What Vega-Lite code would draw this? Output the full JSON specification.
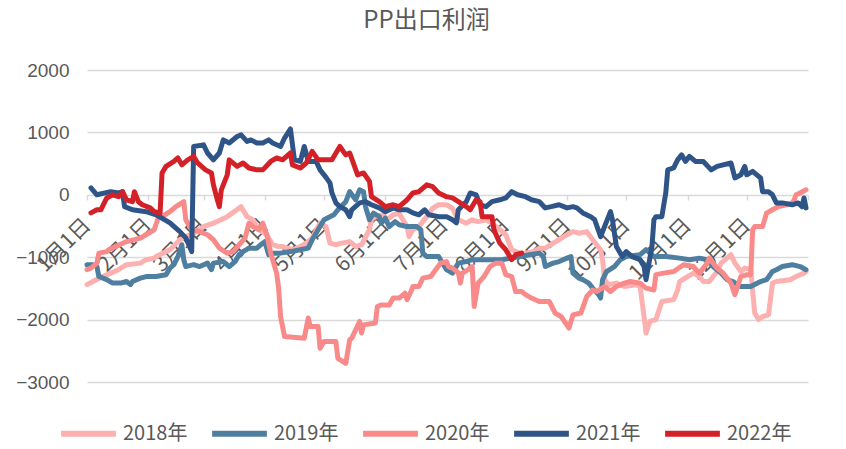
{
"$schema": "https://vega.github.io/schema/vega-lite/v6.json",
"width": 721, "height": 312,
"autosize": {"type": "none"},
"padding": {"left": 87, "top": 70, "right": 38, "bottom": 67},
"background": "white",
"title": {"text": "PP出口利润", "fontSize": 24, "font": "Noto Sans CJK SC", "fontWeight": "normal", "color": "#595959", "anchor": "middle", "dx": -21, "offset": 28},
"config": {"view": {"stroke": null}},
"data": {"values": [
{"s":"2018年","d":"2001-01-01","v":-1440},{"s":"2018年","d":"2001-01-04","v":-1390},{"s":"2018年","d":"2001-01-09","v":-1310},{"s":"2018年","d":"2001-01-13","v":-1255},{"s":"2018年","d":"2001-01-17","v":-1200},{"s":"2018年","d":"2001-01-21","v":-1120},{"s":"2018年","d":"2001-01-28","v":-1095},{"s":"2018年","d":"2001-01-31","v":-1040},{"s":"2018年","d":"2001-02-04","v":-1015},{"s":"2018年","d":"2001-02-05","v":-990},{"s":"2018年","d":"2001-02-12","v":-880},{"s":"2018年","d":"2001-02-17","v":-720},{"s":"2018年","d":"2001-02-20","v":-670},{"s":"2018年","d":"2001-02-24","v":-615},{"s":"2018年","d":"2001-03-01","v":-510},{"s":"2018年","d":"2001-03-06","v":-455},{"s":"2018年","d":"2001-03-13","v":-350},{"s":"2018年","d":"2001-03-20","v":-190},{"s":"2018年","d":"2001-03-23","v":-350},{"s":"2018年","d":"2001-03-26","v":-400},{"s":"2018年","d":"2001-03-29","v":-560},{"s":"2018年","d":"2001-04-02","v":-640},{"s":"2018年","d":"2001-04-05","v":-800},{"s":"2018年","d":"2001-04-08","v":-830},{"s":"2018年","d":"2001-04-10","v":-830},{"s":"2018年","d":"2001-04-15","v":-880},{"s":"2018年","d":"2001-04-19","v":-830},{"s":"2018年","d":"2001-04-22","v":-775},{"s":"2018年","d":"2001-04-25","v":-695},{"s":"2018年","d":"2001-04-28","v":-510},{"s":"2018年","d":"2001-04-29","v":-455},{"s":"2018年","d":"2001-05-02","v":-510},{"s":"2018年","d":"2001-05-04","v":-775},{"s":"2018年","d":"2001-05-07","v":-800},{"s":"2018年","d":"2001-05-10","v":-775},{"s":"2018年","d":"2001-05-14","v":-750},{"s":"2018年","d":"2001-05-17","v":-830},{"s":"2018年","d":"2001-05-20","v":-800},{"s":"2018年","d":"2001-05-24","v":-560},{"s":"2018年","d":"2001-05-25","v":-400},{"s":"2018年","d":"2001-05-27","v":-350},{"s":"2018年","d":"2001-05-31","v":-320},{"s":"2018年","d":"2001-06-02","v":-400},{"s":"2018年","d":"2001-06-05","v":-320},{"s":"2018年","d":"2001-06-08","v":-295},{"s":"2018年","d":"2001-06-12","v":-510},{"s":"2018年","d":"2001-06-13","v":-670},{"s":"2018年","d":"2001-06-15","v":-560},{"s":"2018年","d":"2001-06-18","v":-510},{"s":"2018年","d":"2001-06-22","v":-350},{"s":"2018年","d":"2001-06-25","v":-215},{"s":"2018年","d":"2001-06-28","v":-160},{"s":"2018年","d":"2001-07-02","v":-160},{"s":"2018年","d":"2001-07-05","v":-215},{"s":"2018年","d":"2001-07-08","v":-400},{"s":"2018年","d":"2001-07-12","v":-455},{"s":"2018年","d":"2001-07-15","v":-400},{"s":"2018年","d":"2001-07-18","v":-430},{"s":"2018年","d":"2001-07-22","v":-400},{"s":"2018年","d":"2001-07-25","v":-455},{"s":"2018年","d":"2001-07-29","v":-560},{"s":"2018年","d":"2001-08-01","v":-640},{"s":"2018年","d":"2001-08-04","v":-880},{"s":"2018年","d":"2001-08-08","v":-935},{"s":"2018年","d":"2001-08-11","v":-935},{"s":"2018年","d":"2001-08-15","v":-910},{"s":"2018年","d":"2001-08-18","v":-855},{"s":"2018年","d":"2001-08-21","v":-855},{"s":"2018年","d":"2001-08-25","v":-775},{"s":"2018年","d":"2001-08-28","v":-720},{"s":"2018年","d":"2001-09-01","v":-640},{"s":"2018年","d":"2001-09-04","v":-590},{"s":"2018年","d":"2001-09-07","v":-615},{"s":"2018年","d":"2001-09-11","v":-590},{"s":"2018年","d":"2001-09-14","v":-720},{"s":"2018年","d":"2001-09-18","v":-880},{"s":"2018年","d":"2001-09-19","v":-1040},{"s":"2018年","d":"2001-09-20","v":-1360},{"s":"2018年","d":"2001-09-22","v":-1440},{"s":"2018年","d":"2001-09-26","v":-1415},{"s":"2018年","d":"2001-09-30","v":-1470},{"s":"2018年","d":"2001-10-06","v":-1440},{"s":"2018年","d":"2001-10-08","v":-1470},{"s":"2018年","d":"2001-10-10","v":-1950},{"s":"2018年","d":"2001-10-11","v":-2215},{"s":"2018年","d":"2001-10-13","v":-2030},{"s":"2018年","d":"2001-10-16","v":-2000},{"s":"2018年","d":"2001-10-19","v":-1710},{"s":"2018年","d":"2001-10-25","v":-1680},{"s":"2018年","d":"2001-10-27","v":-1525},{"s":"2018年","d":"2001-10-28","v":-1390},{"s":"2018年","d":"2001-11-01","v":-1310},{"s":"2018年","d":"2001-11-04","v":-1255},{"s":"2018年","d":"2001-11-07","v":-1310},{"s":"2018年","d":"2001-11-09","v":-1390},{"s":"2018年","d":"2001-11-12","v":-1390},{"s":"2018年","d":"2001-11-16","v":-1230},{"s":"2018年","d":"2001-11-18","v":-1095},{"s":"2018年","d":"2001-11-23","v":-960},{"s":"2018年","d":"2001-11-25","v":-1095},{"s":"2018年","d":"2001-11-28","v":-1230},{"s":"2018年","d":"2001-11-30","v":-1175},{"s":"2018年","d":"2001-12-03","v":-1200},{"s":"2018年","d":"2001-12-05","v":-1895},{"s":"2018年","d":"2001-12-07","v":-2000},{"s":"2018年","d":"2001-12-09","v":-1950},{"s":"2018年","d":"2001-12-12","v":-1925},{"s":"2018年","d":"2001-12-14","v":-1415},{"s":"2018年","d":"2001-12-16","v":-1390},{"s":"2018年","d":"2001-12-23","v":-1360},{"s":"2018年","d":"2001-12-26","v":-1310},{"s":"2018年","d":"2001-12-30","v":-1255},{"s":"2018年","d":"2001-12-31","v":-1230},
{"s":"2019年","d":"2001-01-01","v":-1120},{"s":"2019年","d":"2001-01-04","v":-1120},{"s":"2019年","d":"2001-01-06","v":-1150},{"s":"2019年","d":"2001-01-07","v":-1310},{"s":"2019年","d":"2001-01-11","v":-1360},{"s":"2019年","d":"2001-01-14","v":-1415},{"s":"2019年","d":"2001-01-18","v":-1415},{"s":"2019年","d":"2001-01-21","v":-1390},{"s":"2019年","d":"2001-01-23","v":-1440},{"s":"2019年","d":"2001-01-24","v":-1390},{"s":"2019年","d":"2001-01-28","v":-1335},{"s":"2019年","d":"2001-01-31","v":-1310},{"s":"2019年","d":"2001-02-05","v":-1310},{"s":"2019年","d":"2001-02-10","v":-1280},{"s":"2019年","d":"2001-02-12","v":-1175},{"s":"2019年","d":"2001-02-14","v":-1120},{"s":"2019年","d":"2001-02-16","v":-990},{"s":"2019年","d":"2001-02-18","v":-800},{"s":"2019年","d":"2001-02-19","v":-1040},{"s":"2019年","d":"2001-02-20","v":-1150},{"s":"2019年","d":"2001-02-24","v":-1120},{"s":"2019年","d":"2001-02-27","v":-1150},{"s":"2019年","d":"2001-03-03","v":-1095},{"s":"2019年","d":"2001-03-05","v":-1200},{"s":"2019年","d":"2001-03-06","v":-1095},{"s":"2019年","d":"2001-03-11","v":-1070},{"s":"2019年","d":"2001-03-14","v":-1150},{"s":"2019年","d":"2001-03-17","v":-1070},{"s":"2019年","d":"2001-03-19","v":-960},{"s":"2019年","d":"2001-03-21","v":-910},{"s":"2019年","d":"2001-03-24","v":-855},{"s":"2019年","d":"2001-03-28","v":-855},{"s":"2019年","d":"2001-03-30","v":-800},{"s":"2019年","d":"2001-04-01","v":-750},{"s":"2019年","d":"2001-04-03","v":-960},{"s":"2019年","d":"2001-04-05","v":-935},{"s":"2019年","d":"2001-04-09","v":-935},{"s":"2019年","d":"2001-04-14","v":-910},{"s":"2019年","d":"2001-04-19","v":-880},{"s":"2019年","d":"2001-04-23","v":-855},{"s":"2019年","d":"2001-04-25","v":-720},{"s":"2019年","d":"2001-04-28","v":-560},{"s":"2019年","d":"2001-05-01","v":-400},{"s":"2019年","d":"2001-05-06","v":-320},{"s":"2019年","d":"2001-05-08","v":-240},{"s":"2019年","d":"2001-05-12","v":-110},{"s":"2019年","d":"2001-05-14","v":50},{"s":"2019年","d":"2001-05-17","v":-80},{"s":"2019年","d":"2001-05-19","v":80},{"s":"2019年","d":"2001-05-21","v":50},{"s":"2019年","d":"2001-05-22","v":-190},{"s":"2019年","d":"2001-05-24","v":-400},{"s":"2019年","d":"2001-05-26","v":-295},{"s":"2019年","d":"2001-05-29","v":-350},{"s":"2019年","d":"2001-05-30","v":-455},{"s":"2019年","d":"2001-06-01","v":-375},{"s":"2019年","d":"2001-06-03","v":-510},{"s":"2019年","d":"2001-06-06","v":-430},{"s":"2019年","d":"2001-06-08","v":-480},{"s":"2019年","d":"2001-06-12","v":-510},{"s":"2019年","d":"2001-06-17","v":-510},{"s":"2019年","d":"2001-06-19","v":-560},{"s":"2019年","d":"2001-06-20","v":-935},{"s":"2019年","d":"2001-06-22","v":-990},{"s":"2019年","d":"2001-06-28","v":-990},{"s":"2019年","d":"2001-07-02","v":-1200},{"s":"2019年","d":"2001-07-05","v":-1255},{"s":"2019年","d":"2001-07-08","v":-1095},{"s":"2019年","d":"2001-07-12","v":-1070},{"s":"2019年","d":"2001-07-15","v":-1040},{"s":"2019年","d":"2001-07-22","v":-1040},{"s":"2019年","d":"2001-07-30","v":-1040},{"s":"2019年","d":"2001-08-08","v":-990},{"s":"2019年","d":"2001-08-13","v":-960},{"s":"2019年","d":"2001-08-18","v":-935},{"s":"2019年","d":"2001-08-20","v":-990},{"s":"2019年","d":"2001-08-21","v":-1150},{"s":"2019年","d":"2001-08-25","v":-1095},{"s":"2019年","d":"2001-08-28","v":-1070},{"s":"2019年","d":"2001-09-01","v":-1015},{"s":"2019年","d":"2001-09-03","v":-990},{"s":"2019年","d":"2001-09-04","v":-1255},{"s":"2019年","d":"2001-09-07","v":-1335},{"s":"2019年","d":"2001-09-09","v":-1360},{"s":"2019年","d":"2001-09-12","v":-1415},{"s":"2019年","d":"2001-09-14","v":-1495},{"s":"2019年","d":"2001-09-17","v":-1600},{"s":"2019年","d":"2001-09-18","v":-1655},{"s":"2019年","d":"2001-09-19","v":-1360},{"s":"2019年","d":"2001-09-21","v":-1230},{"s":"2019年","d":"2001-09-25","v":-1150},{"s":"2019年","d":"2001-09-28","v":-1040},{"s":"2019年","d":"2001-10-01","v":-990},{"s":"2019年","d":"2001-10-08","v":-960},{"s":"2019年","d":"2001-10-11","v":-880},{"s":"2019年","d":"2001-10-15","v":-990},{"s":"2019年","d":"2001-10-21","v":-990},{"s":"2019年","d":"2001-10-28","v":-1015},{"s":"2019年","d":"2001-11-02","v":-1040},{"s":"2019年","d":"2001-11-07","v":-1015},{"s":"2019年","d":"2001-11-11","v":-1040},{"s":"2019年","d":"2001-11-14","v":-1150},{"s":"2019年","d":"2001-11-18","v":-1255},{"s":"2019年","d":"2001-11-21","v":-1360},{"s":"2019年","d":"2001-11-24","v":-1390},{"s":"2019年","d":"2001-11-28","v":-1470},{"s":"2019年","d":"2001-12-03","v":-1470},{"s":"2019年","d":"2001-12-08","v":-1390},{"s":"2019年","d":"2001-12-11","v":-1360},{"s":"2019年","d":"2001-12-14","v":-1230},{"s":"2019年","d":"2001-12-16","v":-1200},{"s":"2019年","d":"2001-12-19","v":-1150},{"s":"2019年","d":"2001-12-24","v":-1120},{"s":"2019年","d":"2001-12-28","v":-1150},{"s":"2019年","d":"2001-12-31","v":-1200},
{"s":"2020年","d":"2001-01-01","v":-1200},{"s":"2020年","d":"2001-01-03","v":-1175},{"s":"2020年","d":"2001-01-06","v":-1095},{"s":"2020年","d":"2001-01-07","v":-935},{"s":"2020年","d":"2001-01-11","v":-910},{"s":"2020年","d":"2001-01-12","v":-880},{"s":"2020年","d":"2001-01-21","v":-750},{"s":"2020年","d":"2001-01-28","v":-695},{"s":"2020年","d":"2001-02-04","v":-560},{"s":"2020年","d":"2001-02-06","v":-375},{"s":"2020年","d":"2001-02-08","v":-350},{"s":"2020年","d":"2001-02-12","v":-270},{"s":"2020年","d":"2001-02-15","v":-190},{"s":"2020年","d":"2001-02-19","v":-110},{"s":"2020年","d":"2001-02-20","v":-400},{"s":"2020年","d":"2001-02-23","v":-560},{"s":"2020年","d":"2001-02-27","v":-590},{"s":"2020年","d":"2001-03-03","v":-640},{"s":"2020年","d":"2001-03-06","v":-720},{"s":"2020年","d":"2001-03-09","v":-855},{"s":"2020年","d":"2001-03-13","v":-935},{"s":"2020年","d":"2001-03-16","v":-910},{"s":"2020年","d":"2001-03-19","v":-800},{"s":"2020年","d":"2001-03-22","v":-695},{"s":"2020年","d":"2001-03-24","v":-455},{"s":"2020年","d":"2001-03-26","v":-510},{"s":"2020年","d":"2001-03-29","v":-560},{"s":"2020年","d":"2001-03-31","v":-455},{"s":"2020年","d":"2001-04-02","v":-640},{"s":"2020年","d":"2001-04-04","v":-935},{"s":"2020年","d":"2001-04-07","v":-1255},{"s":"2020年","d":"2001-04-08","v":-1495},{"s":"2020年","d":"2001-04-09","v":-1950},{"s":"2020年","d":"2001-04-11","v":-2270},{"s":"2020年","d":"2001-04-21","v":-2300},{"s":"2020年","d":"2001-04-23","v":-1975},{"s":"2020年","d":"2001-04-24","v":-2110},{"s":"2020年","d":"2001-04-28","v":-2110},{"s":"2020年","d":"2001-04-29","v":-2460},{"s":"2020年","d":"2001-05-01","v":-2350},{"s":"2020年","d":"2001-05-07","v":-2350},{"s":"2020年","d":"2001-05-08","v":-2620},{"s":"2020年","d":"2001-05-12","v":-2700},{"s":"2020年","d":"2001-05-14","v":-2320},{"s":"2020年","d":"2001-05-15","v":-2300},{"s":"2020年","d":"2001-05-19","v":-2030},{"s":"2020年","d":"2001-05-20","v":-2215},{"s":"2020年","d":"2001-05-21","v":-2085},{"s":"2020年","d":"2001-05-27","v":-2055},{"s":"2020年","d":"2001-05-28","v":-1790},{"s":"2020年","d":"2001-05-30","v":-1765},{"s":"2020年","d":"2001-06-03","v":-1765},{"s":"2020年","d":"2001-06-05","v":-1655},{"s":"2020年","d":"2001-06-08","v":-1655},{"s":"2020年","d":"2001-06-11","v":-1575},{"s":"2020年","d":"2001-06-12","v":-1680},{"s":"2020年","d":"2001-06-14","v":-1550},{"s":"2020年","d":"2001-06-15","v":-1470},{"s":"2020年","d":"2001-06-18","v":-1470},{"s":"2020年","d":"2001-06-20","v":-1335},{"s":"2020年","d":"2001-06-24","v":-1310},{"s":"2020年","d":"2001-06-29","v":-1095},{"s":"2020年","d":"2001-07-02","v":-1070},{"s":"2020年","d":"2001-07-03","v":-1150},{"s":"2020年","d":"2001-07-05","v":-1175},{"s":"2020年","d":"2001-07-08","v":-1250},{"s":"2020年","d":"2001-07-09","v":-1415},{"s":"2020年","d":"2001-07-10","v":-1255},{"s":"2020年","d":"2001-07-13","v":-1200},{"s":"2020年","d":"2001-07-15","v":-1150},{"s":"2020年","d":"2001-07-16","v":-1790},{"s":"2020年","d":"2001-07-18","v":-1415},{"s":"2020年","d":"2001-07-21","v":-1310},{"s":"2020年","d":"2001-07-24","v":-1150},{"s":"2020年","d":"2001-07-27","v":-1095},{"s":"2020年","d":"2001-07-30","v":-1095},{"s":"2020年","d":"2001-08-01","v":-1280},{"s":"2020年","d":"2001-08-04","v":-1310},{"s":"2020年","d":"2001-08-06","v":-1550},{"s":"2020年","d":"2001-08-09","v":-1550},{"s":"2020年","d":"2001-08-11","v":-1600},{"s":"2020年","d":"2001-08-14","v":-1655},{"s":"2020年","d":"2001-08-18","v":-1710},{"s":"2020年","d":"2001-08-23","v":-1710},{"s":"2020年","d":"2001-08-26","v":-1895},{"s":"2020年","d":"2001-08-29","v":-1950},{"s":"2020年","d":"2001-09-02","v":-2135},{"s":"2020年","d":"2001-09-04","v":-1925},{"s":"2020年","d":"2001-09-08","v":-1895},{"s":"2020年","d":"2001-09-11","v":-1630},{"s":"2020年","d":"2001-09-14","v":-1525},{"s":"2020年","d":"2001-09-16","v":-1550},{"s":"2020年","d":"2001-09-20","v":-1470},{"s":"2020年","d":"2001-09-23","v":-1550},{"s":"2020年","d":"2001-09-26","v":-1470},{"s":"2020年","d":"2001-09-30","v":-1415},{"s":"2020年","d":"2001-10-03","v":-1390},{"s":"2020年","d":"2001-10-08","v":-1415},{"s":"2020年","d":"2001-10-11","v":-1495},{"s":"2020年","d":"2001-10-15","v":-1525},{"s":"2020年","d":"2001-10-16","v":-1280},{"s":"2020年","d":"2001-10-20","v":-1255},{"s":"2020年","d":"2001-10-25","v":-1230},{"s":"2020年","d":"2001-10-30","v":-1120},{"s":"2020年","d":"2001-11-04","v":-1150},{"s":"2020年","d":"2001-11-07","v":-1255},{"s":"2020年","d":"2001-11-11","v":-1095},{"s":"2020年","d":"2001-11-12","v":-1015},{"s":"2020年","d":"2001-11-16","v":-1175},{"s":"2020年","d":"2001-11-19","v":-1255},{"s":"2020年","d":"2001-11-23","v":-1415},{"s":"2020年","d":"2001-11-25","v":-1600},{"s":"2020年","d":"2001-11-28","v":-1310},{"s":"2020年","d":"2001-12-01","v":-1280},{"s":"2020年","d":"2001-12-03","v":-1280},{"s":"2020年","d":"2001-12-04","v":-560},{"s":"2020年","d":"2001-12-05","v":-510},{"s":"2020年","d":"2001-12-09","v":-510},{"s":"2020年","d":"2001-12-11","v":-295},{"s":"2020年","d":"2001-12-14","v":-240},{"s":"2020年","d":"2001-12-17","v":-190},{"s":"2020年","d":"2001-12-21","v":-160},{"s":"2020年","d":"2001-12-24","v":-135},{"s":"2020年","d":"2001-12-25","v":-80},{"s":"2020年","d":"2001-12-26","v":0},{"s":"2020年","d":"2001-12-28","v":30},{"s":"2020年","d":"2001-12-31","v":80},
{"s":"2021年","d":"2001-01-03","v":110},{"s":"2021年","d":"2001-01-06","v":0},{"s":"2021年","d":"2001-01-13","v":50},{"s":"2021年","d":"2001-01-17","v":30},{"s":"2021年","d":"2001-01-19","v":50},{"s":"2021年","d":"2001-01-20","v":-190},{"s":"2021年","d":"2001-01-24","v":-240},{"s":"2021年","d":"2001-01-31","v":-270},{"s":"2021年","d":"2001-02-05","v":-320},{"s":"2021年","d":"2001-02-12","v":-450},{"s":"2021年","d":"2001-02-17","v":-590},{"s":"2021年","d":"2001-02-20","v":-690},{"s":"2021年","d":"2001-02-23","v":-910},{"s":"2021年","d":"2001-02-24","v":775},{"s":"2021年","d":"2001-03-01","v":800},{"s":"2021年","d":"2001-03-03","v":670},{"s":"2021年","d":"2001-03-06","v":560},{"s":"2021年","d":"2001-03-09","v":670},{"s":"2021年","d":"2001-03-11","v":880},{"s":"2021年","d":"2001-03-14","v":830},{"s":"2021年","d":"2001-03-18","v":935},{"s":"2021年","d":"2001-03-20","v":960},{"s":"2021年","d":"2001-03-23","v":855},{"s":"2021年","d":"2001-03-25","v":880},{"s":"2021年","d":"2001-03-28","v":830},{"s":"2021年","d":"2001-03-31","v":830},{"s":"2021年","d":"2001-04-03","v":880},{"s":"2021年","d":"2001-04-05","v":830},{"s":"2021年","d":"2001-04-09","v":775},{"s":"2021年","d":"2001-04-11","v":910},{"s":"2021年","d":"2001-04-14","v":1055},{"s":"2021年","d":"2001-04-16","v":560},{"s":"2021年","d":"2001-04-19","v":535},{"s":"2021年","d":"2001-04-21","v":775},{"s":"2021年","d":"2001-04-23","v":535},{"s":"2021年","d":"2001-04-27","v":535},{"s":"2021年","d":"2001-04-29","v":400},{"s":"2021年","d":"2001-05-02","v":280},{"s":"2021年","d":"2001-05-04","v":190},{"s":"2021年","d":"2001-05-05","v":30},{"s":"2021年","d":"2001-05-07","v":-130},{"s":"2021年","d":"2001-05-09","v":-190},{"s":"2021年","d":"2001-05-12","v":-240},{"s":"2021年","d":"2001-05-14","v":-350},{"s":"2021年","d":"2001-05-15","v":-240},{"s":"2021年","d":"2001-05-19","v":-130},{"s":"2021年","d":"2001-05-22","v":-110},{"s":"2021年","d":"2001-05-25","v":-160},{"s":"2021年","d":"2001-05-29","v":-210},{"s":"2021年","d":"2001-06-01","v":-270},{"s":"2021年","d":"2001-06-05","v":-210},{"s":"2021年","d":"2001-06-08","v":-240},{"s":"2021年","d":"2001-06-12","v":-240},{"s":"2021年","d":"2001-06-15","v":-290},{"s":"2021年","d":"2001-06-18","v":-320},{"s":"2021年","d":"2001-06-21","v":-240},{"s":"2021年","d":"2001-06-23","v":-320},{"s":"2021年","d":"2001-06-28","v":-350},{"s":"2021年","d":"2001-07-02","v":-350},{"s":"2021年","d":"2001-07-05","v":-400},{"s":"2021年","d":"2001-07-07","v":-450},{"s":"2021年","d":"2001-07-08","v":-240},{"s":"2021年","d":"2001-07-12","v":-110},{"s":"2021年","d":"2001-07-14","v":30},{"s":"2021年","d":"2001-07-17","v":0},{"s":"2021年","d":"2001-07-19","v":-160},{"s":"2021年","d":"2001-07-22","v":-190},{"s":"2021年","d":"2001-07-25","v":-110},{"s":"2021年","d":"2001-07-29","v":-80},{"s":"2021年","d":"2001-08-01","v":-50},{"s":"2021年","d":"2001-08-04","v":50},{"s":"2021年","d":"2001-08-07","v":0},{"s":"2021年","d":"2001-08-11","v":-30},{"s":"2021年","d":"2001-08-14","v":-80},{"s":"2021年","d":"2001-08-18","v":-110},{"s":"2021年","d":"2001-08-21","v":-210},{"s":"2021年","d":"2001-08-24","v":-190},{"s":"2021年","d":"2001-08-28","v":-160},{"s":"2021年","d":"2001-09-01","v":-210},{"s":"2021年","d":"2001-09-04","v":-190},{"s":"2021年","d":"2001-09-06","v":-210},{"s":"2021年","d":"2001-09-09","v":-290},{"s":"2021年","d":"2001-09-13","v":-350},{"s":"2021年","d":"2001-09-15","v":-400},{"s":"2021年","d":"2001-09-18","v":-670},{"s":"2021年","d":"2001-09-20","v":-510},{"s":"2021年","d":"2001-09-23","v":-270},{"s":"2021年","d":"2001-09-24","v":-400},{"s":"2021年","d":"2001-09-26","v":-830},{"s":"2021年","d":"2001-09-29","v":-990},{"s":"2021年","d":"2001-10-01","v":-910},{"s":"2021年","d":"2001-10-04","v":-990},{"s":"2021年","d":"2001-10-08","v":-1040},{"s":"2021年","d":"2001-10-10","v":-1150},{"s":"2021年","d":"2001-10-11","v":-1360},{"s":"2021年","d":"2001-10-14","v":-830},{"s":"2021年","d":"2001-10-15","v":-400},{"s":"2021年","d":"2001-10-16","v":-350},{"s":"2021年","d":"2001-10-19","v":-350},{"s":"2021年","d":"2001-10-21","v":30},{"s":"2021年","d":"2001-10-22","v":400},{"s":"2021年","d":"2001-10-25","v":430},{"s":"2021年","d":"2001-10-27","v":560},{"s":"2021年","d":"2001-10-29","v":640},{"s":"2021年","d":"2001-10-31","v":535},{"s":"2021年","d":"2001-11-02","v":615},{"s":"2021年","d":"2001-11-05","v":535},{"s":"2021年","d":"2001-11-09","v":535},{"s":"2021年","d":"2001-11-13","v":400},{"s":"2021年","d":"2001-11-16","v":455},{"s":"2021年","d":"2001-11-19","v":480},{"s":"2021年","d":"2001-11-23","v":510},{"s":"2021年","d":"2001-11-25","v":270},{"s":"2021年","d":"2001-11-28","v":320},{"s":"2021年","d":"2001-11-30","v":455},{"s":"2021年","d":"2001-12-01","v":320},{"s":"2021年","d":"2001-12-04","v":375},{"s":"2021年","d":"2001-12-08","v":270},{"s":"2021年","d":"2001-12-09","v":50},{"s":"2021年","d":"2001-12-12","v":50},{"s":"2021年","d":"2001-12-14","v":0},{"s":"2021年","d":"2001-12-16","v":-130},{"s":"2021年","d":"2001-12-19","v":-130},{"s":"2021年","d":"2001-12-24","v":-160},{"s":"2021年","d":"2001-12-27","v":-130},{"s":"2021年","d":"2001-12-29","v":-190},{"s":"2021年","d":"2001-12-30","v":-50},{"s":"2021年","d":"2001-12-31","v":-210},
{"s":"2022年","d":"2001-01-03","v":-290},{"s":"2022年","d":"2001-01-06","v":-240},{"s":"2022年","d":"2001-01-08","v":-240},{"s":"2022年","d":"2001-01-11","v":-50},{"s":"2022年","d":"2001-01-14","v":0},{"s":"2022年","d":"2001-01-17","v":-30},{"s":"2022年","d":"2001-01-19","v":50},{"s":"2022年","d":"2001-01-21","v":-80},{"s":"2022年","d":"2001-01-24","v":-110},{"s":"2022年","d":"2001-01-25","v":50},{"s":"2022年","d":"2001-01-27","v":-110},{"s":"2022年","d":"2001-01-29","v":-160},{"s":"2022年","d":"2001-02-02","v":-210},{"s":"2022年","d":"2001-02-04","v":-270},{"s":"2022年","d":"2001-02-07","v":-290},{"s":"2022年","d":"2001-02-08","v":350},{"s":"2022年","d":"2001-02-10","v":455},{"s":"2022年","d":"2001-02-14","v":535},{"s":"2022年","d":"2001-02-16","v":590},{"s":"2022年","d":"2001-02-18","v":480},{"s":"2022年","d":"2001-02-21","v":560},{"s":"2022年","d":"2001-02-24","v":615},{"s":"2022年","d":"2001-02-26","v":510},{"s":"2022年","d":"2001-03-02","v":400},{"s":"2022年","d":"2001-03-05","v":350},{"s":"2022年","d":"2001-03-06","v":160},{"s":"2022年","d":"2001-03-08","v":-80},{"s":"2022年","d":"2001-03-09","v":-190},{"s":"2022年","d":"2001-03-10","v":80},{"s":"2022年","d":"2001-03-13","v":320},{"s":"2022年","d":"2001-03-14","v":560},{"s":"2022年","d":"2001-03-18","v":455},{"s":"2022年","d":"2001-03-21","v":510},{"s":"2022年","d":"2001-03-24","v":430},{"s":"2022年","d":"2001-03-28","v":400},{"s":"2022年","d":"2001-03-31","v":400},{"s":"2022年","d":"2001-04-04","v":535},{"s":"2022年","d":"2001-04-07","v":590},{"s":"2022年","d":"2001-04-10","v":560},{"s":"2022年","d":"2001-04-14","v":670},{"s":"2022年","d":"2001-04-15","v":480},{"s":"2022年","d":"2001-04-19","v":430},{"s":"2022年","d":"2001-04-22","v":510},{"s":"2022年","d":"2001-04-25","v":695},{"s":"2022年","d":"2001-04-28","v":560},{"s":"2022年","d":"2001-05-02","v":560},{"s":"2022年","d":"2001-05-05","v":560},{"s":"2022年","d":"2001-05-09","v":775},{"s":"2022年","d":"2001-05-12","v":640},{"s":"2022年","d":"2001-05-14","v":670},{"s":"2022年","d":"2001-05-18","v":320},{"s":"2022年","d":"2001-05-21","v":350},{"s":"2022年","d":"2001-05-24","v":215},{"s":"2022年","d":"2001-05-25","v":-30},{"s":"2022年","d":"2001-05-29","v":-110},{"s":"2022年","d":"2001-06-01","v":-190},{"s":"2022年","d":"2001-06-05","v":-160},{"s":"2022年","d":"2001-06-08","v":-190},{"s":"2022年","d":"2001-06-12","v":-80},{"s":"2022年","d":"2001-06-15","v":30},{"s":"2022年","d":"2001-06-18","v":50},{"s":"2022年","d":"2001-06-22","v":160},{"s":"2022年","d":"2001-06-25","v":130},{"s":"2022年","d":"2001-06-28","v":30},{"s":"2022年","d":"2001-07-02","v":-30},{"s":"2022年","d":"2001-07-05","v":-50},{"s":"2022年","d":"2001-07-08","v":-110},{"s":"2022年","d":"2001-07-12","v":-190},{"s":"2022年","d":"2001-07-14","v":-240},{"s":"2022年","d":"2001-07-17","v":-80},{"s":"2022年","d":"2001-07-19","v":-110},{"s":"2022年","d":"2001-07-20","v":-350},{"s":"2022年","d":"2001-07-25","v":-350},{"s":"2022年","d":"2001-07-26","v":-560},{"s":"2022年","d":"2001-07-29","v":-775},{"s":"2022年","d":"2001-08-01","v":-880},{"s":"2022年","d":"2001-08-04","v":-1040},{"s":"2022年","d":"2001-08-06","v":-960},{"s":"2022年","d":"2001-08-09","v":-935}
]},
"mark": {"type": "line", "strokeWidth": 5, "strokeJoin": "round", "strokeCap": "round"},
"encoding": {
"x": {"field": "d", "type": "temporal",
 "scale": {"type": "utc", "domain": [{"year": 2001, "month": 1, "date": 1, "utc": true}, {"year": 2002, "month": 1, "date": 1, "utc": true}]},
 "axis": {"title": null, "offset": -187, "grid": false, "domain": false,
  "values": [{"year": 2001, "month": 1, "date": 1, "utc": true}, {"year": 2001, "month": 2, "date": 1, "utc": true}, {"year": 2001, "month": 3, "date": 1, "utc": true}, {"year": 2001, "month": 4, "date": 1, "utc": true}, {"year": 2001, "month": 5, "date": 1, "utc": true}, {"year": 2001, "month": 6, "date": 1, "utc": true}, {"year": 2001, "month": 7, "date": 1, "utc": true}, {"year": 2001, "month": 8, "date": 1, "utc": true}, {"year": 2001, "month": 9, "date": 1, "utc": true}, {"year": 2001, "month": 10, "date": 1, "utc": true}, {"year": 2001, "month": 11, "date": 1, "utc": true}, {"year": 2001, "month": 12, "date": 1, "utc": true}, {"year": 2002, "month": 1, "date": 1, "utc": true}],
  "labelExpr": "utcyear(datum.value) > 2001 ? '' : utcFormat(datum.value, '%-m月%-d日')",
  "labelAngle": -45, "labelAlign": "right", "labelBaseline": "middle", "labelFontSize": 21, "labelFont": "Noto Sans CJK SC", "labelColor": "#595959", "labelPadding": 22, "labelOverlap": false, "labelBound": false, "labelFlush": false,
  "tickColor": "#d9d9d9", "tickSize": 5, "tickWidth": 1.5}},
"y": {"field": "v", "type": "quantitative",
 "scale": {"domain": [-3000, 2000], "nice": false, "zero": false},
 "axis": {"title": null, "values": [-3000, -2000, -1000, 0, 1000, 2000], "format": "d", "grid": true, "gridColor": "#d9d9d9", "gridWidth": 1.5, "domain": false, "ticks": false, "labelFontSize": 19, "labelFont": "Liberation Sans", "labelColor": "#595959", "labelPadding": 18}},
"color": {"field": "s", "type": "nominal",
 "scale": {"domain": ["2018年", "2019年", "2020年", "2021年", "2022年"], "range": ["#FDB0B0", "#4E7FA0", "#F98A8A", "#2F5588", "#D42027"]},
 "legend": {"title": null, "orient": "none", "legendX": -29, "legendY": 333, "padding": 0, "direction": "horizontal", "symbolType": "stroke", "symbolSize": 3000, "symbolStrokeWidth": 6, "labelFontSize": 20, "labelFont": "Noto Sans CJK SC", "labelColor": "#595959", "labelOffset": 4, "columnPadding": 12}}
}
}
